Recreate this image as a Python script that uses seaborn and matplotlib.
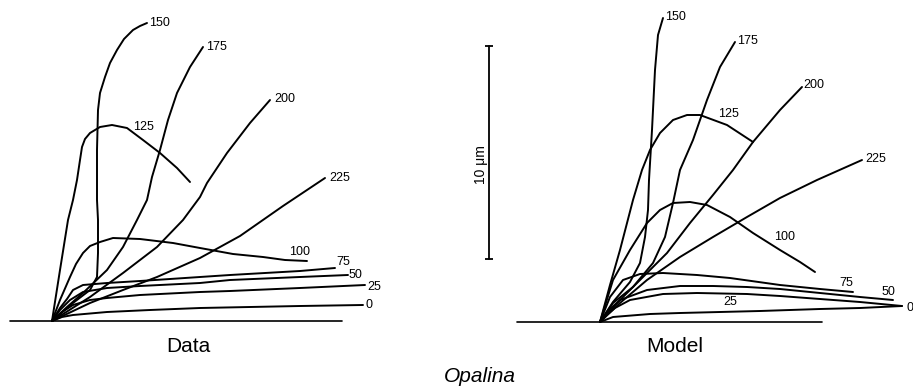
"""
Opalina cilium beat: traced shapes (Data) vs simulated shapes (Model).
Each curve is one phase of the beat, labelled by its time.
"""

import numpy as np
import pandas as pd
import matplotlib
matplotlib.use('Agg')
import matplotlib.pyplot as plt
import seaborn as sns

sns.set_theme(style='white')
plt.rcParams['font.family'] = ['Liberation Sans', 'DejaVu Sans']
plt.rcParams['text.color'] = 'black'

W, H = 913, 388
PX_PER_UM = 21.3          # the 10 um scale bar is ~213 px tall in the figure

# ─────────────────────────────────────────────
# curve shapes
# (offsets from the cilium base, drawing px; x to the right, y upward)
# ─────────────────────────────────────────────
DATA_X = {
    0:   [0, 10, 21, 55, 98, 148, 198, 248, 311],
    25:  [0, 10, 21, 38, 55, 88, 148, 178, 248, 313],
    50:  [0, 8, 18, 31, 55, 88, 148, 178, 248, 296],
    75:  [0, 8, 15, 21, 31, 55, 88, 148, 178, 248, 283],
    100: [0, 8, 18, 24, 31, 38, 48, 61, 88, 121, 148, 181, 211, 233, 255],
    125: [0, 8, 16, 21, 25, 28, 30, 33, 38, 48, 60, 75, 91, 108, 125, 138],
    150: [0, 21, 38, 45, 46, 46, 45, 45, 46, 48, 53, 58, 65, 72, 81, 88, 95],
    175: [0, 15, 31, 55, 71, 85, 95, 100, 108, 116, 125, 138, 151],
    200: [0, 38, 71, 105, 131, 148, 155, 175, 198, 218],
    225: [0, 38, 71, 105, 148, 188, 231, 273],
}
DATA_Y = {
    0:   [0, 4, 6, 9, 11, 13, 14, 15, 16],
    25:  [0, 9, 16, 21, 23, 26, 29, 30, 33, 36],
    50:  [0, 11, 21, 29, 33, 35, 38, 41, 44, 46],
    75:  [0, 13, 22, 31, 36, 38, 40, 44, 46, 50, 53],
    100: [0, 21, 44, 57, 68, 75, 79, 83, 82, 78, 73, 67, 64, 61, 60],
    125: [0, 51, 101, 121, 141, 161, 174, 182, 188, 194, 196, 193, 181, 168, 153, 139],
    150: [0, 18, 31, 44, 68, 101, 121, 171, 211, 228, 244, 258, 271, 282, 291, 295, 298],
    175: [0, 14, 28, 51, 74, 101, 121, 144, 171, 201, 228, 254, 274],
    200: [0, 24, 48, 74, 101, 124, 138, 168, 198, 221],
    225: [0, 18, 31, 44, 63, 85, 115, 143],
}

MODEL_X = {
    0:   [0, 13, 50, 80, 120, 160, 220, 260, 302],
    25:  [0, 8, 15, 30, 63, 97, 147, 180, 220, 260, 302],
    50:  [0, 10, 20, 47, 80, 113, 147, 180, 220, 260, 293],
    75:  [0, 10, 23, 40, 63, 97, 130, 180, 220, 253],
    100: [0, 13, 30, 47, 60, 73, 90, 107, 130, 153, 180, 200, 215],
    125: [0, 10, 20, 33, 42, 50, 60, 73, 87, 100, 127, 153],
    150: [0, 13, 30, 40, 45, 48, 49, 52, 55, 58, 63],
    175: [0, 13, 33, 53, 65, 73, 80, 93, 107, 120, 135],
    200: [0, 20, 43, 67, 90, 113, 133, 153, 180, 202],
    225: [0, 20, 47, 80, 113, 147, 180, 217, 262],
}
MODEL_Y = {
    0:   [0, 5, 8, 9, 10, 11, 13, 14, 16],
    25:  [0, 8, 14, 22, 28, 29, 28, 26, 23, 20, 16],
    50:  [0, 13, 22, 32, 36, 36, 35, 33, 29, 25, 22],
    75:  [0, 25, 42, 48, 49, 47, 44, 37, 33, 30],
    100: [0, 42, 72, 99, 112, 119, 120, 117, 105, 89, 72, 60, 50],
    125: [0, 37, 72, 122, 152, 172, 189, 202, 207, 207, 197, 180],
    150: [0, 20, 40, 59, 85, 112, 142, 192, 252, 287, 304],
    175: [0, 19, 35, 59, 85, 119, 152, 182, 222, 255, 280],
    200: [0, 22, 45, 69, 99, 127, 152, 180, 212, 235],
    225: [0, 19, 42, 65, 85, 105, 124, 142, 162],
}

# label spots (same offsets as above) and horizontal alignment
DATA_LABELS = {
    0: (313, 16, 'left'), 25: (315, 34, 'left'), 50: (297, 46, 'left'),
    75: (291, 59, 'center'), 100: (248, 69, 'center'), 125: (91, 194, 'center'),
    150: (97, 298, 'left'), 175: (154, 274, 'left'), 200: (222, 222, 'left'),
    225: (277, 143, 'left'),
}
MODEL_LABELS = {
    0: (307, 14, 'left'), 25: (130, 20, 'center'), 50: (288, 30, 'center'),
    75: (246, 39, 'center'), 100: (185, 85, 'center'), 125: (129, 208, 'center'),
    150: (65, 305, 'left'), 175: (137, 281, 'left'), 200: (203, 237, 'left'),
    225: (265, 163, 'left'),
}


def to_frame(xs, ys):
    rows = []
    for beat in xs:
        for i, (x, y) in enumerate(zip(xs[beat], ys[beat])):
            rows.append({'beat': beat, 'i': i,
                         'x': x / PX_PER_UM, 'y': y / PX_PER_UM})
    return pd.DataFrame(rows)


data_df = to_frame(DATA_X, DATA_Y)
model_df = to_frame(MODEL_X, MODEL_Y)

fig = plt.figure(figsize=(W / 100, H / 100), dpi=100)


def panel_axes(ox, oy):
    """Full-figure transparent axes in um, base of the cilium at (ox, oy) px."""
    ax = fig.add_axes([0, 0, 1, 1])
    ax.set_xlim(-ox / PX_PER_UM, (W - ox) / PX_PER_UM)
    ax.set_ylim(-(H - oy) / PX_PER_UM, oy / PX_PER_UM)
    ax.set_axis_off()
    ax.patch.set_alpha(0)
    return ax


def draw_panel(ax, df, labels, base_from, base_to):
    sns.lineplot(data=df, x='x', y='y', units='beat', estimator=None,
                 sort=False, color='black', linewidth=1.4, legend=False, ax=ax)
    ax.plot([base_from / PX_PER_UM, base_to / PX_PER_UM], [0, 0],
            color='black', linewidth=1.2)
    for beat, (lx, ly, ha) in labels.items():
        ax.text(lx / PX_PER_UM, ly / PX_PER_UM, str(beat), ha=ha, va='center',
                fontsize=9, color='black')


ax_data = panel_axes(52, 321)
draw_panel(ax_data, data_df, DATA_LABELS, -42, 290)

ax_model = panel_axes(600, 322)
draw_panel(ax_model, model_df, MODEL_LABELS, -83, 222)

# 10 um scale bar (between panels)
bar_x = -111 / PX_PER_UM
bar_y0 = 63 / PX_PER_UM
ax_model.plot([bar_x, bar_x], [bar_y0, bar_y0 + 10], color='black',
              linewidth=1.3, marker='_', markersize=6, markeredgewidth=1.3)
ax_model.text(bar_x - 8 / PX_PER_UM, 157 / PX_PER_UM, '10 μm', rotation=90,
              ha='center', va='center', fontsize=10, color='black')

fig.text(188 / W, 1 - 346 / H, 'Data', ha='center', va='center',
         fontsize=15, color='black')
fig.text(675 / W, 1 - 347 / H, 'Model', ha='center', va='center',
         fontsize=15, color='black')
fig.text(480 / W, 1 - 376 / H, 'Opalina', ha='center', va='center',
         fontsize=15, style='italic', color='black')

plt.savefig('out.png', dpi=100, facecolor='white')
